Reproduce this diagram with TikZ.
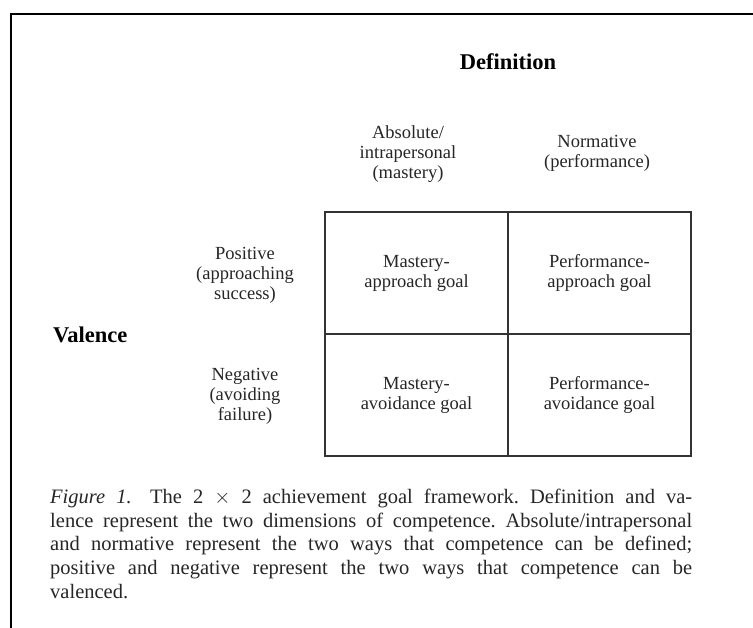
\documentclass[tikz,border=0pt]{standalone}
\usepackage{fontspec}
\setmainfont{Liberation Serif}
\begin{document}
\begin{tikzpicture}[x=1pt,y=-1pt,
  lab/.style={align=center,font=\fontsize{18.5}{20}\selectfont,inner sep=0pt,text=black!85},
  cell/.style={draw=black!80,line width=1.6pt,minimum width=183pt,minimum height=122pt,inner sep=0pt,align=center,font=\fontsize{18.5}{20}\selectfont,text=black!85},
  head/.style={font=\fontsize{22.5}{26}\selectfont\bfseries,inner sep=0pt}]
\useasboundingbox (0,0) rectangle (753,628);
\draw[line width=2.2pt] (11,628) -- (11,14) -- (753,14);
\node[head] (def) at (508,62) {Definition};
\node[head,anchor=west] (val) at (53,335) {Valence};
\node[lab] (abs) at (408,154) {Absolute/\\intrapersonal\\(mastery)};
\node[lab] (nor) at (597,153) {Normative\\(performance)};
\node[lab] (pos) at (245,275) {Positive\\(approaching\\success)};
\node[lab] (neg) at (245,396) {Negative\\(avoiding\\failure)};
\node[cell] (ma) at (416.5,273) {Mastery-\\approach goal};
\node[cell] (pa) at (599.5,273) {Performance-\\approach goal};
\node[cell] (mv) at (416.5,395) {Mastery-\\avoidance goal};
\node[cell] (pv) at (599.5,395) {Performance-\\avoidance goal};
\node[anchor=north west,inner sep=0pt,text width=642pt,align=justify,
  font=\fontsize{20.5}{23.6}\selectfont\frenchspacing,text=black!85] (cap) at (50,489)
{\textit{Figure 1.}\hspace{0.9em}The 2 $\times$ 2 achievement goal framework. Definition and va-\linebreak lence represent the two dimensions of competence. Absolute/intrapersonal\linebreak and normative represent the two ways that competence can be defined;\linebreak positive and negative represent the two ways that competence can be\linebreak valenced.};
\end{tikzpicture}
\end{document}
